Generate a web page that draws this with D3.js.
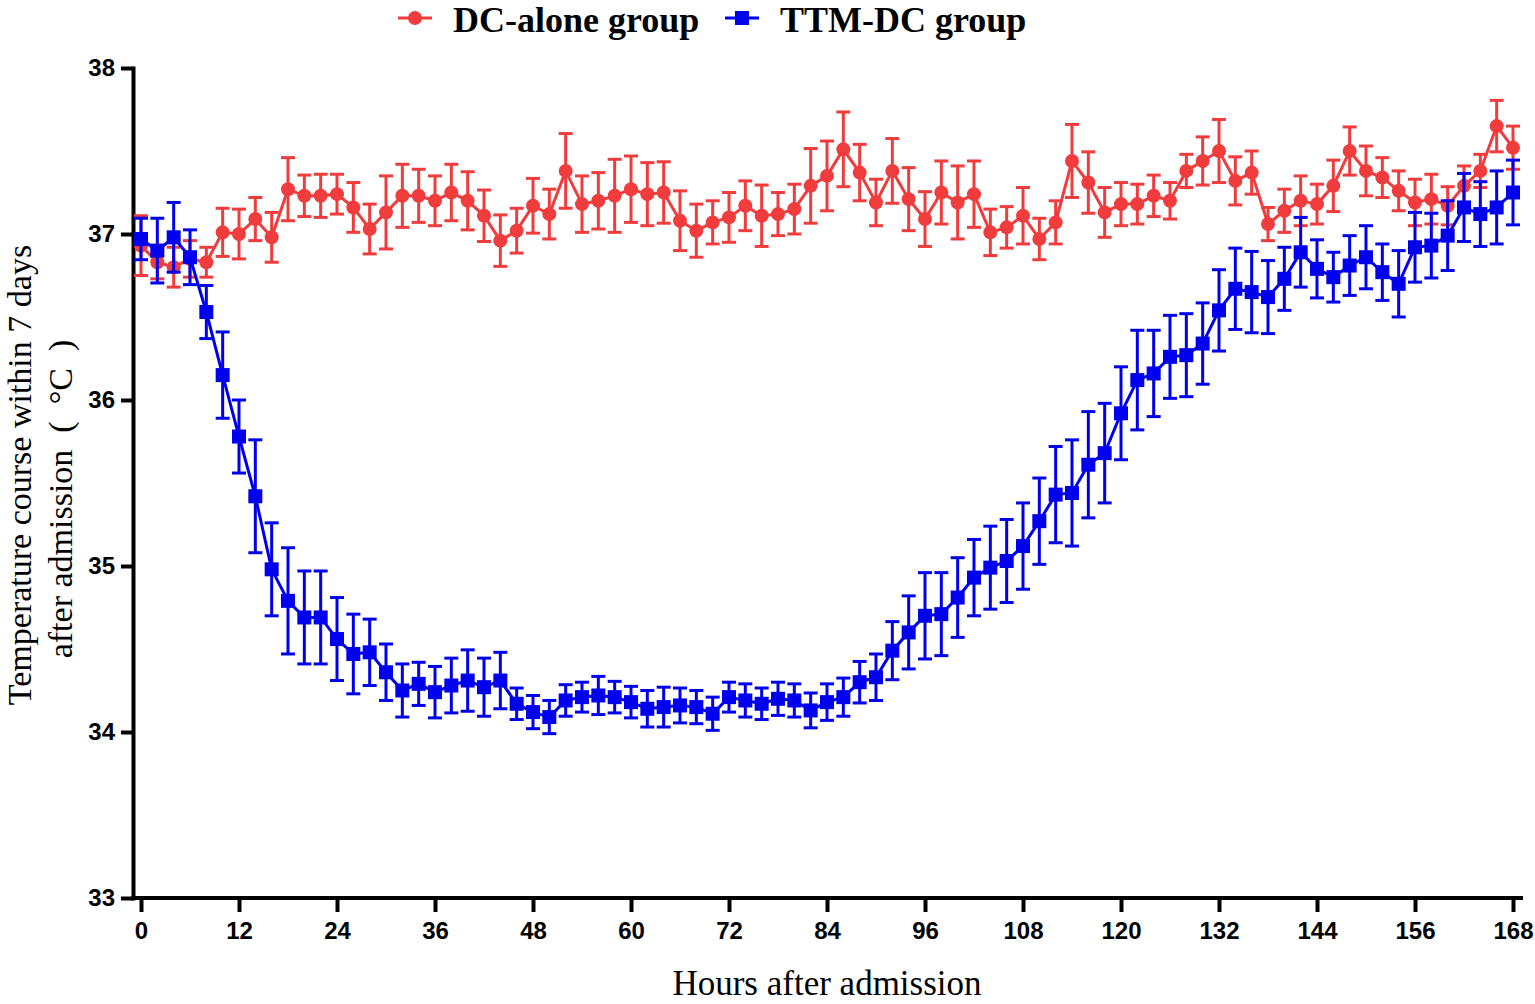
<!DOCTYPE html>
<html>
<head>
<meta charset="utf-8">
<script src="https://cdn.jsdelivr.net/npm/d3@7"></script>
<style>
  html, body { margin: 0; padding: 0; background: #fff; }
  svg { display: block; }
  .tick text { font-family: "Liberation Sans", Arial, sans-serif; font-weight: bold; font-size: 24px; fill: #000; }
  .axis path, .axis line { stroke: #000; stroke-width: 4; }
  .title { font-family: "Liberation Serif", "Times New Roman", serif; font-size: 35px; fill: #000; }
  .legend text { font-family: "Liberation Serif", "Times New Roman", serif; font-weight: bold; font-size: 36px; fill: #000; }
</style>
</head>
<body>
<div id="chart"></div>
<script>
// Data: hours after admission, mean temperature and SEM for each group
const hours = [0, 2, 4, 6, 8, 10, 12, 14, 16, 18, 20, 22, 24, 26, 28, 30, 32, 34, 36, 38,
  40, 42, 44, 46, 48, 50, 52, 54, 56, 58, 60, 62, 64, 66, 68, 70, 72, 74, 76, 78,
  80, 82, 84, 86, 88, 90, 92, 94, 96, 98, 100, 102, 104, 106, 108, 110, 112, 114, 116, 118,
  120, 122, 124, 126, 128, 130, 132, 134, 136, 138, 140, 142, 144, 146, 148, 150, 152, 154, 156, 158,
  160, 162, 164, 166, 168];

const dcMean = [36.93, 36.83, 36.80, 36.85, 36.83, 37.01, 37.00, 37.09, 36.98, 37.27,
  37.23, 37.23, 37.24, 37.16, 37.03, 37.13, 37.23, 37.23, 37.20, 37.25,
  37.20, 37.11, 36.96, 37.02, 37.17, 37.12, 37.38, 37.18, 37.20, 37.23,
  37.27, 37.24, 37.25, 37.08, 37.02, 37.07, 37.10, 37.17, 37.11, 37.12,
  37.15, 37.29, 37.35, 37.51, 37.37, 37.19, 37.38, 37.21, 37.09, 37.25,
  37.19, 37.24, 37.01, 37.04, 37.11, 36.97, 37.07, 37.44, 37.31, 37.13,
  37.18, 37.18, 37.23, 37.20, 37.38, 37.44, 37.50, 37.32, 37.37, 37.06,
  37.14, 37.20, 37.18, 37.29, 37.50, 37.38, 37.34, 37.26, 37.19, 37.21,
  37.17, 37.29, 37.38, 37.65, 37.52];

const dcErr = [0.18, 0.10, 0.12, 0.11, 0.09, 0.145, 0.15, 0.13, 0.15, 0.19,
  0.125, 0.13, 0.12, 0.15, 0.15, 0.22, 0.19, 0.16, 0.15, 0.17,
  0.175, 0.155, 0.155, 0.135, 0.165, 0.15, 0.225, 0.17, 0.17, 0.22,
  0.20, 0.19, 0.185, 0.18, 0.16, 0.13, 0.15, 0.15, 0.185, 0.13,
  0.15, 0.225, 0.21, 0.225, 0.17, 0.14, 0.195, 0.19, 0.165, 0.19,
  0.22, 0.20, 0.14, 0.125, 0.17, 0.125, 0.13, 0.22, 0.185, 0.15,
  0.13, 0.12, 0.125, 0.11, 0.10, 0.145, 0.19, 0.145, 0.13, 0.10,
  0.13, 0.15, 0.12, 0.155, 0.145, 0.15, 0.12, 0.12, 0.14, 0.15,
  0.115, 0.12, 0.10, 0.155, 0.13];

const ttmMean = [36.97, 36.90, 36.98, 36.86, 36.53, 36.15, 35.78, 35.42, 34.98, 34.79,
  34.69, 34.69, 34.56, 34.47, 34.48, 34.36, 34.25, 34.29, 34.24, 34.28,
  34.31, 34.27, 34.31, 34.17, 34.12, 34.09, 34.19, 34.21, 34.22, 34.21,
  34.18, 34.14, 34.15, 34.16, 34.15, 34.11, 34.21, 34.19, 34.17, 34.20,
  34.19, 34.13, 34.18, 34.21, 34.30, 34.33, 34.49, 34.60, 34.70, 34.71,
  34.81, 34.93, 34.99, 35.03, 35.12, 35.27, 35.43, 35.44, 35.61, 35.68,
  35.92, 36.12, 36.16, 36.26, 36.27, 36.34, 36.54, 36.67, 36.65, 36.62,
  36.73, 36.89, 36.79, 36.74, 36.81, 36.86, 36.77, 36.70, 36.92, 36.93,
  36.99, 37.16, 37.12, 37.16, 37.25];

const ttmErr = [0.125, 0.195, 0.21, 0.165, 0.16, 0.26, 0.22, 0.34, 0.28, 0.32,
  0.28, 0.28, 0.25, 0.24, 0.20, 0.17, 0.16, 0.13, 0.155, 0.165,
  0.185, 0.175, 0.17, 0.095, 0.10, 0.10, 0.095, 0.09, 0.115, 0.095,
  0.095, 0.11, 0.12, 0.105, 0.10, 0.10, 0.09, 0.10, 0.095, 0.10,
  0.10, 0.105, 0.11, 0.115, 0.125, 0.14, 0.175, 0.22, 0.26, 0.25,
  0.24, 0.23, 0.25, 0.25, 0.26, 0.26, 0.29, 0.32, 0.32, 0.30,
  0.28, 0.30, 0.26, 0.25, 0.25, 0.245, 0.245, 0.245, 0.245, 0.22,
  0.19, 0.21, 0.175, 0.15, 0.18, 0.19, 0.17, 0.20, 0.21, 0.195,
  0.21, 0.205, 0.195, 0.22, 0.195];

const xTicks = [0, 12, 24, 36, 48, 60, 72, 84, 96, 108, 120, 132, 144, 156, 168];
const yTicks = [33, 34, 35, 36, 37, 38];

const RED = "#f03c3c";
const BLUE = "#0000ee";

const series = [
  { name: "DC-alone group", mean: dcMean, err: dcErr, color: RED, shape: "circle" },
  { name: "TTM-DC group", mean: ttmMean, err: ttmErr, color: BLUE, shape: "square" }
];

const W = 1535, H = 1004;
const svg = d3.select("#chart").append("svg")
  .attr("width", W)
  .attr("height", H);

const x = d3.scaleLinear().domain([0, 168]).range([141, 1513]);
const y = d3.scaleLinear().domain([33, 38]).range([898, 68]);
const axisX = 133; // where the y axis sits

// Y axis
svg.append("g")
  .attr("class", "axis")
  .attr("transform", `translate(${axisX},0)`)
  .call(d3.axisLeft(y).tickValues(yTicks).tickSize(12).tickSizeOuter(0).tickPadding(6).tickFormat(d3.format("d")))
  .call(g => g.select(".domain").attr("stroke-linecap", "square"));

// X axis (line runs from the y axis slightly past the last tick)
const gx = svg.append("g")
  .attr("class", "axis")
  .attr("transform", `translate(0,${y(33)})`)
  .call(d3.axisBottom(x).tickValues(xTicks).tickSize(14).tickSizeOuter(0).tickPadding(10).tickFormat(d3.format("d")));
gx.select(".domain").remove();
gx.append("line")
  .attr("x1", axisX - 2)
  .attr("x2", x(168) + 10)
  .attr("y1", 0).attr("y2", 0)
  .attr("stroke", "#000")
  .attr("stroke-width", 4);

// Series
const line = d3.line()
  .x((d, i) => x(hours[i]))
  .y(d => y(d));

series.forEach(s => {
  const g = svg.append("g");
  const pts = hours.map((h, i) => ({ h, m: s.mean[i], e: s.err[i] }));

  // error bars
  const eb = g.append("g")
    .attr("stroke", s.color)
    .attr("stroke-width", 3)
    .attr("fill", "none");
  eb.selectAll("line.v").data(pts).join("line")
    .attr("x1", d => x(d.h)).attr("x2", d => x(d.h))
    .attr("y1", d => y(d.m + d.e)).attr("y2", d => y(d.m - d.e));
  eb.selectAll("line.top").data(pts).join("line")
    .attr("x1", d => x(d.h) - 7).attr("x2", d => x(d.h) + 7)
    .attr("y1", d => y(d.m + d.e)).attr("y2", d => y(d.m + d.e));
  eb.selectAll("line.bot").data(pts).join("line")
    .attr("x1", d => x(d.h) - 7).attr("x2", d => x(d.h) + 7)
    .attr("y1", d => y(d.m - d.e)).attr("y2", d => y(d.m - d.e));

  // connecting line
  g.append("path")
    .datum(s.mean)
    .attr("fill", "none")
    .attr("stroke", s.color)
    .attr("stroke-width", 3)
    .attr("d", line);

  // markers
  if (s.shape === "circle") {
    g.selectAll("circle").data(pts).join("circle")
      .attr("cx", d => x(d.h))
      .attr("cy", d => y(d.m))
      .attr("r", 7)
      .attr("fill", s.color);
  } else {
    g.selectAll("rect").data(pts).join("rect")
      .attr("x", d => x(d.h) - 7)
      .attr("y", d => y(d.m) - 7)
      .attr("width", 14)
      .attr("height", 14)
      .attr("fill", s.color);
  }
});

// Axis titles
svg.append("text")
  .attr("class", "title")
  .attr("x", 827)
  .attr("y", 995)
  .attr("text-anchor", "middle")
  .text("Hours after admission");

svg.append("text")
  .attr("class", "title")
  .style("font-size", "34px")
  .attr("text-anchor", "middle")
  .attr("transform", "translate(31,475) rotate(-90)")
  .text("Temperature course within 7 days");

svg.append("text")
  .attr("class", "title")
  .style("font-size", "34px")
  .attr("text-anchor", "middle")
  .attr("transform", "translate(72,499) rotate(-90)")
  .text("after admission\u2002(\u2002°C\u2002)");

// Legend
const legendItems = [
  { s: series[0], lx: 398, tx: 453 },
  { s: series[1], lx: 725, tx: 780 }
];
const lg = svg.append("g").attr("class", "legend");
legendItems.forEach(it => {
  const g = lg.append("g");
  g.append("line")
    .attr("x1", it.lx).attr("x2", it.lx + 34)
    .attr("y1", 18).attr("y2", 18)
    .attr("stroke", it.s.color)
    .attr("stroke-width", 3);
  if (it.s.shape === "circle") {
    g.append("circle").attr("cx", it.lx + 17).attr("cy", 18).attr("r", 7).attr("fill", it.s.color);
  } else {
    g.append("rect").attr("x", it.lx + 10).attr("y", 11).attr("width", 14).attr("height", 14).attr("fill", it.s.color);
  }
  g.append("text")
    .attr("x", it.tx)
    .attr("y", 32)
    .text(it.s.name);
});
</script>
</body>
</html>
